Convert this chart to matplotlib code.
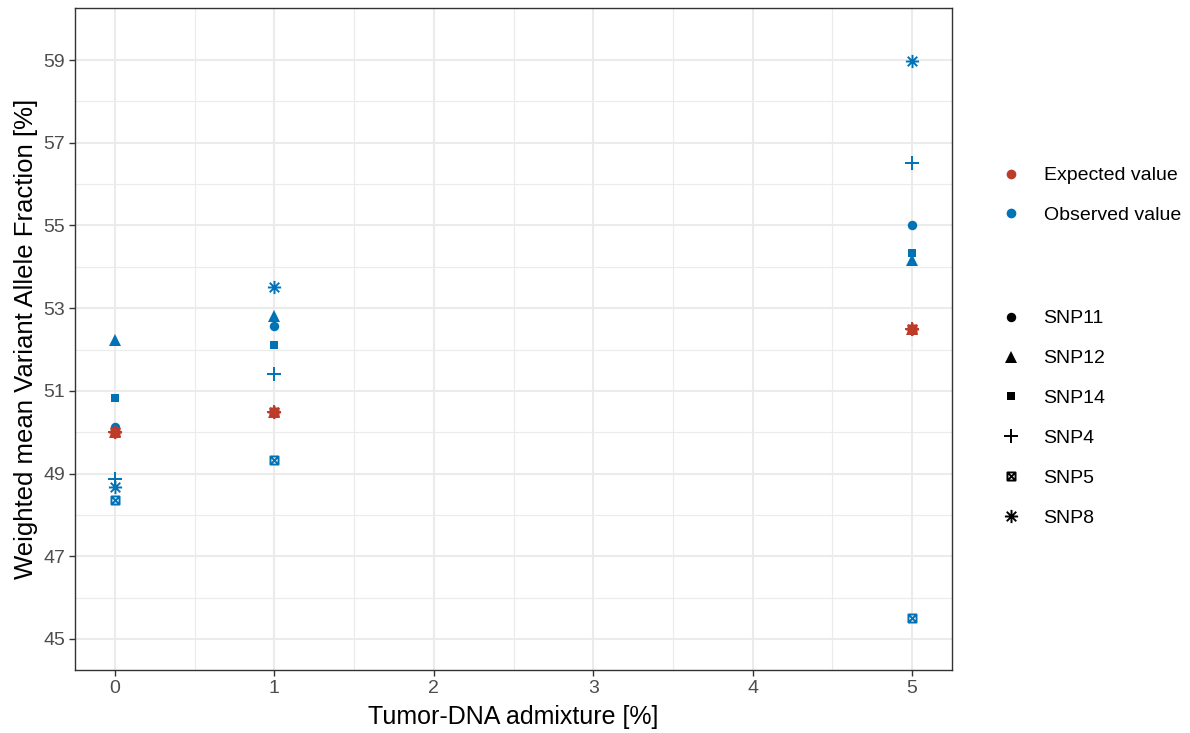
import numpy as np
import matplotlib
matplotlib.use("Agg")
import matplotlib.pyplot as plt
from matplotlib.lines import Line2D
from matplotlib.path import Path

plt.rcParams['font.family'] = ['Liberation Sans', 'DejaVu Sans']

# Tumor-DNA admixture levels [%]
admixture = [0, 1, 5]

# Expected VAF at each admixture level (same for every SNP)
expected_vaf = [50.0, 50.5, 52.5]

# Observed weighted mean VAF per SNP at 0, 1 and 5 %
snp_names = ['SNP11', 'SNP12', 'SNP14', 'SNP4', 'SNP5', 'SNP8']
observed_vaf = {
    'SNP11': [50.12, 52.58, 55.0],
    'SNP12': [52.23, 52.80, 54.17],
    'SNP14': [50.82, 52.11, 54.33],
    'SNP4':  [48.88, 51.40, 56.50],
    'SNP5':  [48.37, 49.34, 45.50],
    'SNP8':  [48.67, 53.51, 58.98],
}

col_expected = '#BC3C29'
col_observed = '#0072B5'

# square with a cross inside (R shape 7)
square_cross = Path(
    [(-1, -1), (1, -1), (1, 1), (-1, 1), (-1, -1),
     (-1, -1), (1, 1), (-1, 1), (1, -1)],
    [Path.MOVETO, Path.LINETO, Path.LINETO, Path.LINETO, Path.CLOSEPOLY,
     Path.MOVETO, Path.LINETO, Path.MOVETO, Path.LINETO])

# plus and cross on top of each other (R shape 8)
asterisk = Path(
    [(0, -1), (0, 1), (-1, 0), (1, 0),
     (-0.72, -0.72), (0.72, 0.72), (-0.72, 0.72), (0.72, -0.72)],
    [Path.MOVETO, Path.LINETO, Path.MOVETO, Path.LINETO,
     Path.MOVETO, Path.LINETO, Path.MOVETO, Path.LINETO])

# marker, size, filled
shape_style = {
    'SNP11': ('o', 6.8, True),
    'SNP12': ('^', 8.0, True),
    'SNP14': ('s', 6.0, True),
    'SNP4':  ('+', 10.5, False),
    'SNP5':  (square_cross, 5.8, False),
    'SNP8':  (asterisk, 9.5, False),
}

fig = plt.figure(figsize=(11.9, 7.33), dpi=100)
ax = fig.add_axes([75 / 1190, 63 / 733, 877 / 1190, 662 / 733])

def draw_points(x, y, snp, color):
    m, ms, filled = shape_style[snp]
    if filled:
        ax.plot(x, y, linestyle='none', marker=m, markersize=ms,
                color=color, markeredgewidth=0, zorder=3)
    else:
        ax.plot(x, y, linestyle='none', marker=m, markersize=ms,
                color=color, markerfacecolor='none',
                markeredgewidth=1.4, zorder=3)

for snp in snp_names:
    draw_points(admixture, observed_vaf[snp], snp, col_observed)
for snp in snp_names:
    draw_points(admixture, expected_vaf, snp, col_expected)

# theme_bw look
ax.set_xlim(-0.25, 5.25)
ax.set_ylim(44.25, 60.26)
ax.set_xticks(range(0, 6))
ax.set_yticks(range(45, 60, 2))
ax.set_xticks(np.arange(0.5, 5.0, 1.0), minor=True)
ax.set_yticks(range(46, 60, 2), minor=True)
ax.grid(True, which='major', color='#EBEBEB', linewidth=1.5, zorder=0)
ax.grid(True, which='minor', color='#EBEBEB', linewidth=0.8, zorder=0)
ax.set_axisbelow(True)
ax.tick_params(which='minor', length=0)
ax.tick_params(which='major', length=4, width=1, color='#333333',
               labelsize=14, labelcolor='#4D4D4D', pad=3)
for sp in ax.spines.values():
    sp.set_color('#333333')
    sp.set_linewidth(1.0)

ax.set_xlabel('Tumor-DNA admixture [%]', fontsize=18, labelpad=6)
ax.set_ylabel('Weighted mean Variant Allele Fraction [%]', fontsize=18.5, labelpad=4)

# colour legend
color_handles = [
    Line2D([], [], linestyle='none', marker='o', markersize=7,
           color=col_expected, markeredgewidth=0, label='Expected value'),
    Line2D([], [], linestyle='none', marker='o', markersize=7,
           color=col_observed, markeredgewidth=0, label='Observed value'),
]
leg1 = fig.legend(handles=color_handles, loc='upper left',
                  bbox_to_anchor=(992 / 1190, 1 - 157 / 733),
                  frameon=False, fontsize=14, handlelength=1.0,
                  handletextpad=1.15, labelspacing=1.15, borderpad=0)

# shape legend
shape_handles = []
for snp in snp_names:
    m, ms, filled = shape_style[snp]
    if filled:
        h = Line2D([], [], linestyle='none', marker=m, markersize=ms,
                   color='black', markeredgewidth=0, label=snp)
    else:
        h = Line2D([], [], linestyle='none', marker=m, markersize=ms,
                   color='black', markerfacecolor='none',
                   markeredgewidth=1.4, label=snp)
    shape_handles.append(h)
leg2 = fig.legend(handles=shape_handles, loc='upper left',
                  bbox_to_anchor=(992 / 1190, 1 - 300 / 733),
                  frameon=False, fontsize=14, handlelength=1.0,
                  handletextpad=1.15, labelspacing=1.15, borderpad=0)

fig.savefig('out.png', dpi=100)
